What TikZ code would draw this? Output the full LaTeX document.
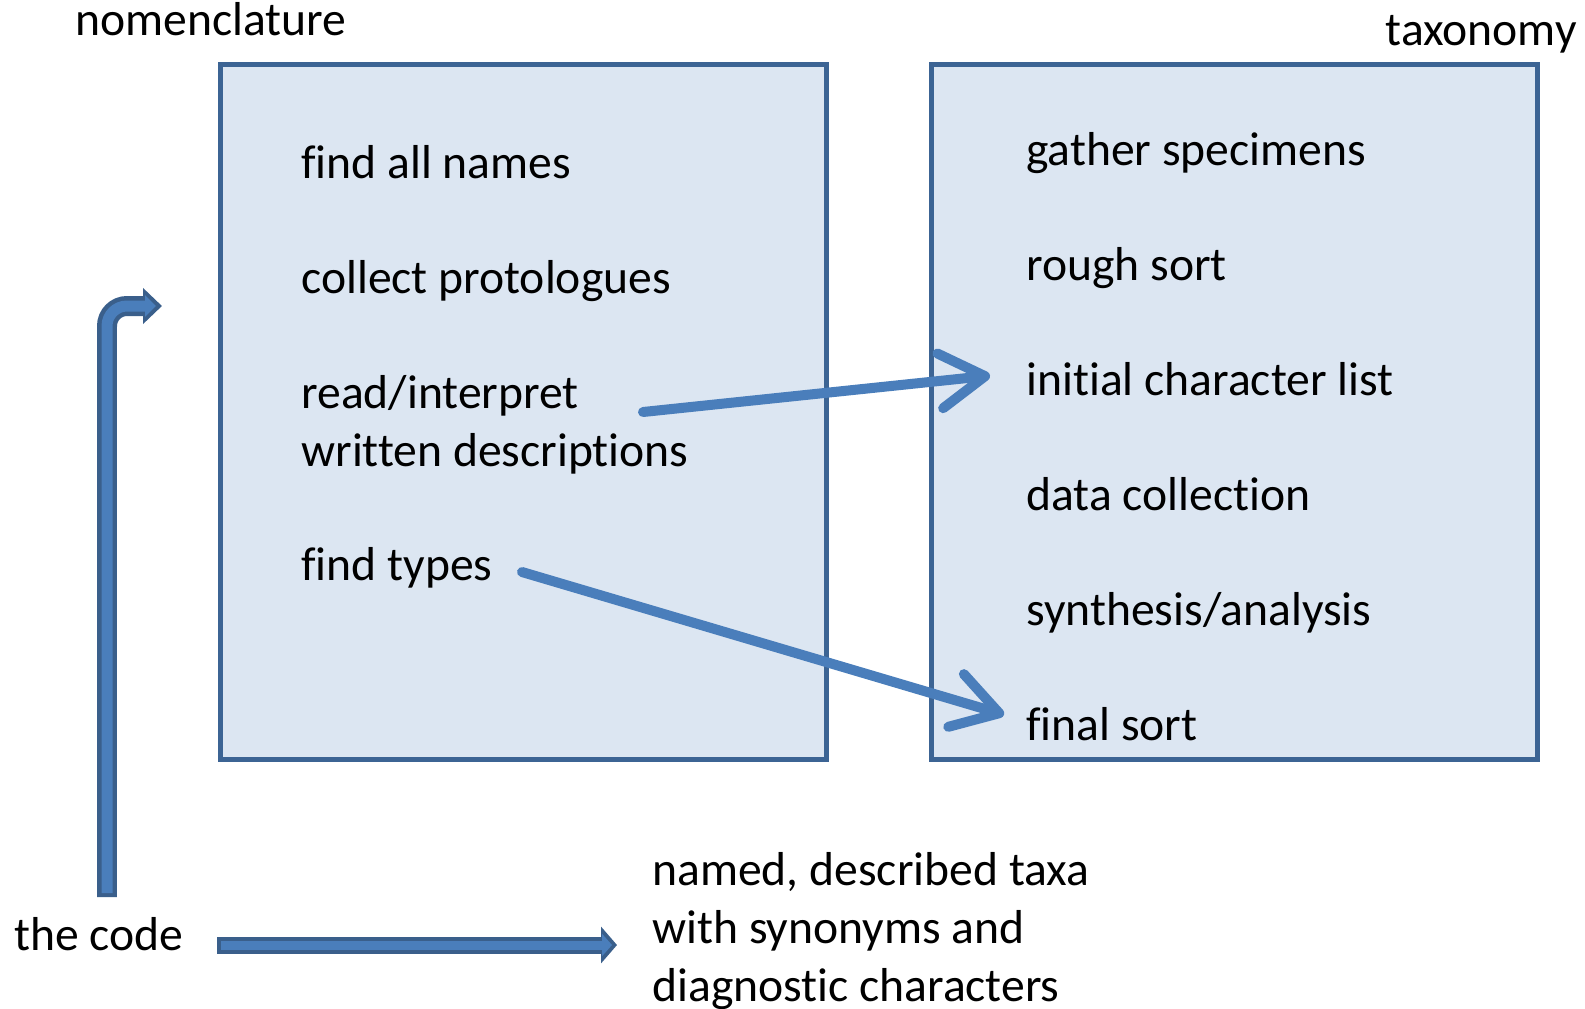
\documentclass[tikz,border=0pt]{standalone}
\usepackage{fontspec}
\setmainfont{Carlito}[Ligatures=NoCommon]
\usepackage{xcolor}
\usepackage{tikz}
\usetikzlibrary{arrows.meta, positioning}

\definecolor{boxfill}{HTML}{DCE6F2}
\definecolor{boxedge}{HTML}{3C6494}
\definecolor{arrowblue}{HTML}{4A7EBB}
\definecolor{arrowdark}{HTML}{3A5F8B}

\begin{document}
\begin{tikzpicture}[
    x=0.02cm, y=-0.02cm,
    stage/.style={rectangle, draw=boxedge, fill=boxfill, line width=0.1cm, minimum width=12.13cm, minimum height=13.91cm},
    itemtext/.style={anchor=base west, inner sep=0pt, align=left, font=\fontsize{27.1}{33}\selectfont},
    flow/.style={draw=arrowblue, line width=0.2cm, line cap=round, -{Straight Barb[length=0.9cm, width=1.1cm, round]}},
    blockout/.style={draw=arrowdark, -{Triangle[length=0.38cm, width=0.70cm]}},
    blockin/.style={draw=arrowblue, -{Triangle[length=0.22cm, width=0.42cm]}, shorten >=0.12cm, shorten <=0.08cm},
]
\useasboundingbox (0,0) rectangle (1585,1008);

% Headings
\node[itemtext] (nomen) at (75,35) {nomenclature};
\node[itemtext, anchor=base east] (taxon) at (1577,45) {taxonomy};

% The two boxes
\node[stage] (nomenbox) at (523.75,412.25) {};
\node[stage] (taxonbox) at (1234.5,412.25) {};

% Nomenclature steps (base of a two-line text is its last line)
\node[itemtext] (allnames) at (301,178) {find all names};
\node[itemtext] (protolog) at (301,293) {collect protologues};
\node[itemtext] (readdesc) at (301,466) {read/interpret\\written descriptions};
\node[itemtext] (findtypes) at (301,580) {find types};

% Taxonomy steps
\node[itemtext] (gather) at (1026,165) {gather specimens};
\node[itemtext] (roughsort) at (1026,280) {rough sort};
\node[itemtext] (initlist) at (1026,395) {initial character list};
\node[itemtext] (datacoll) at (1026,510) {data collection};
\node[itemtext] (synth) at (1026,625) {synthesis/analysis};
\node[itemtext] (finalsort) at (1026,740) {final sort};

% Bottom texts
\node[itemtext] (thecode) at (14,950) {the code};
\node[itemtext] (taxa) at (652,1001) {named, described taxa\\with synonyms and\\diagnostic characters};

% Links between the boxes
\coordinate (readout) at (643,412);
\coordinate (typesout) at (522,572);
\draw[flow] (readout) -- ([xshift=-0.72cm, yshift=0.06cm]initlist.west);
\draw[flow] (typesout) -- ([xshift=-0.44cm, yshift=0.18cm]finalsort.west);

% Block arrows from the code
\coordinate (codeup) at (107,897);
\coordinate (nomenin) at (162,306);
\coordinate (codeout) at (217,945);
\coordinate (taxain) at (617,945);
\draw[blockout, line width=0.4cm, rounded corners=0.4cm] (codeup) |- (nomenin);
\draw[blockin, line width=0.22cm, rounded corners=0.4cm] (codeup) |- (nomenin);
\draw[blockout, line width=0.34cm, -{Triangle[length=0.32cm, width=0.72cm]}] (codeout) -- (taxain);
\draw[blockin, line width=0.18cm, -{Triangle[length=0.2cm, width=0.44cm]}, shorten >=0.1cm] (codeout) -- (taxain);

\end{tikzpicture}
\end{document}
